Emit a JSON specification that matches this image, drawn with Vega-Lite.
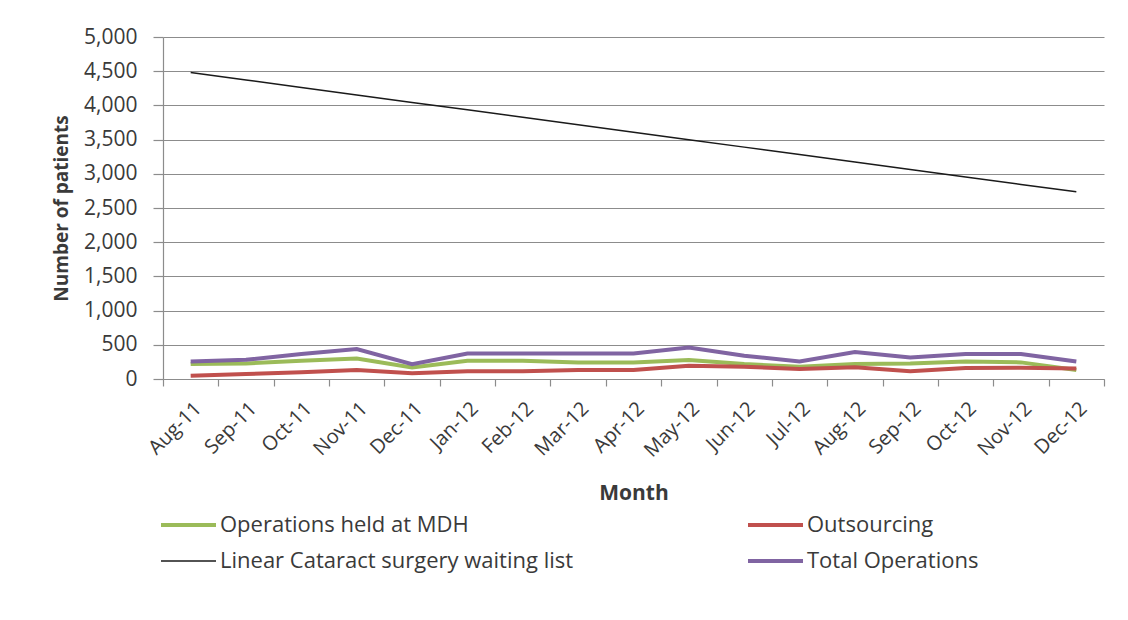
{
  "$schema": "https://vega.github.io/schema/vega-lite/v6.json",
  "width": 941,
  "height": 342,
  "autosize": {"type": "none"},
  "padding": {"left": 163, "top": 37, "right": 24, "bottom": 241},
  "background": "white",
  "config": {
    "font": "Open Sans",
    "view": {"stroke": null},
    "axis": {
      "labelColor": "#3a3a3a",
      "titleColor": "#3a3a3a",
      "domainColor": "#8c8c8c",
      "tickColor": "#8c8c8c",
      "gridColor": "#8c8c8c",
      "gridOpacity": 1,
      "domainWidth": 1.2,
      "tickWidth": 1.2
    }
  },
  "data": {
    "values": [
      {"month": "Aug-11", "series": "Operations held at MDH", "patients": 218},
      {"month": "Sep-11", "series": "Operations held at MDH", "patients": 228},
      {"month": "Oct-11", "series": "Operations held at MDH", "patients": 267},
      {"month": "Nov-11", "series": "Operations held at MDH", "patients": 300},
      {"month": "Dec-11", "series": "Operations held at MDH", "patients": 170},
      {"month": "Jan-12", "series": "Operations held at MDH", "patients": 267},
      {"month": "Feb-12", "series": "Operations held at MDH", "patients": 267},
      {"month": "Mar-12", "series": "Operations held at MDH", "patients": 243},
      {"month": "Apr-12", "series": "Operations held at MDH", "patients": 243},
      {"month": "May-12", "series": "Operations held at MDH", "patients": 277},
      {"month": "Jun-12", "series": "Operations held at MDH", "patients": 218},
      {"month": "Jul-12", "series": "Operations held at MDH", "patients": 180},
      {"month": "Aug-12", "series": "Operations held at MDH", "patients": 218},
      {"month": "Sep-12", "series": "Operations held at MDH", "patients": 228},
      {"month": "Oct-12", "series": "Operations held at MDH", "patients": 257},
      {"month": "Nov-12", "series": "Operations held at MDH", "patients": 243},
      {"month": "Dec-12", "series": "Operations held at MDH", "patients": 131},

      {"month": "Aug-11", "series": "Outsourcing", "patients": 49},
      {"month": "Sep-11", "series": "Outsourcing", "patients": 73},
      {"month": "Oct-11", "series": "Outsourcing", "patients": 97},
      {"month": "Nov-11", "series": "Outsourcing", "patients": 131},
      {"month": "Dec-11", "series": "Outsourcing", "patients": 83},
      {"month": "Jan-12", "series": "Outsourcing", "patients": 112},
      {"month": "Feb-12", "series": "Outsourcing", "patients": 112},
      {"month": "Mar-12", "series": "Outsourcing", "patients": 131},
      {"month": "Apr-12", "series": "Outsourcing", "patients": 131},
      {"month": "May-12", "series": "Outsourcing", "patients": 194},
      {"month": "Jun-12", "series": "Outsourcing", "patients": 180},
      {"month": "Jul-12", "series": "Outsourcing", "patients": 146},
      {"month": "Aug-12", "series": "Outsourcing", "patients": 170},
      {"month": "Sep-12", "series": "Outsourcing", "patients": 112},
      {"month": "Oct-12", "series": "Outsourcing", "patients": 160},
      {"month": "Nov-12", "series": "Outsourcing", "patients": 165},
      {"month": "Dec-12", "series": "Outsourcing", "patients": 155},

      {"month": "Aug-11", "series": "Total Operations", "patients": 257},
      {"month": "Sep-11", "series": "Total Operations", "patients": 282},
      {"month": "Oct-11", "series": "Total Operations", "patients": 364},
      {"month": "Nov-11", "series": "Total Operations", "patients": 437},
      {"month": "Dec-11", "series": "Total Operations", "patients": 218},
      {"month": "Jan-12", "series": "Total Operations", "patients": 374},
      {"month": "Feb-12", "series": "Total Operations", "patients": 374},
      {"month": "Mar-12", "series": "Total Operations", "patients": 374},
      {"month": "Apr-12", "series": "Total Operations", "patients": 374},
      {"month": "May-12", "series": "Total Operations", "patients": 461},
      {"month": "Jun-12", "series": "Total Operations", "patients": 340},
      {"month": "Jul-12", "series": "Total Operations", "patients": 257},
      {"month": "Aug-12", "series": "Total Operations", "patients": 395},
      {"month": "Sep-12", "series": "Total Operations", "patients": 316},
      {"month": "Oct-12", "series": "Total Operations", "patients": 364},
      {"month": "Nov-12", "series": "Total Operations", "patients": 364},
      {"month": "Dec-12", "series": "Total Operations", "patients": 257},

      {"month": "Aug-11", "series": "Linear  Cataract surgery waiting list", "patients": 4480},
      {"month": "Sep-11", "series": "Linear  Cataract surgery waiting list", "patients": 4371},
      {"month": "Oct-11", "series": "Linear  Cataract surgery waiting list", "patients": 4262},
      {"month": "Nov-11", "series": "Linear  Cataract surgery waiting list", "patients": 4153},
      {"month": "Dec-11", "series": "Linear  Cataract surgery waiting list", "patients": 4044},
      {"month": "Jan-12", "series": "Linear  Cataract surgery waiting list", "patients": 3935},
      {"month": "Feb-12", "series": "Linear  Cataract surgery waiting list", "patients": 3826},
      {"month": "Mar-12", "series": "Linear  Cataract surgery waiting list", "patients": 3717},
      {"month": "Apr-12", "series": "Linear  Cataract surgery waiting list", "patients": 3608},
      {"month": "May-12", "series": "Linear  Cataract surgery waiting list", "patients": 3499},
      {"month": "Jun-12", "series": "Linear  Cataract surgery waiting list", "patients": 3390},
      {"month": "Jul-12", "series": "Linear  Cataract surgery waiting list", "patients": 3281},
      {"month": "Aug-12", "series": "Linear  Cataract surgery waiting list", "patients": 3172},
      {"month": "Sep-12", "series": "Linear  Cataract surgery waiting list", "patients": 3063},
      {"month": "Oct-12", "series": "Linear  Cataract surgery waiting list", "patients": 2954},
      {"month": "Nov-12", "series": "Linear  Cataract surgery waiting list", "patients": 2845},
      {"month": "Dec-12", "series": "Linear  Cataract surgery waiting list", "patients": 2736}
    ]
  },
  "encoding": {
    "x": {
      "field": "month",
      "type": "ordinal",
      "sort": null,
      "bandPosition": 0.5,
      "scale": {"type": "band", "paddingInner": 0, "paddingOuter": 0},
      "axis": {
        "title": "Month",
        "titleFontSize": 21,
        "titleFontWeight": "bold",
        "titlePadding": 22,
        "labelAngle": -45,
        "labelFontSize": 20,
        "labelPadding": 12,
        "tickBand": "extent",
        "tickSize": 7,
        "grid": false
      }
    },
    "y": {
      "field": "patients",
      "type": "quantitative",
      "scale": {"domain": [0, 5000], "nice": false},
      "axis": {
        "title": "Number of patients",
        "titleFontSize": 19,
        "titleFontWeight": "bold",
        "titlePadding": 12,
        "values": [0, 500, 1000, 1500, 2000, 2500, 3000, 3500, 4000, 4500, 5000],
        "format": ",d",
        "labelFontSize": 21,
        "labelPadding": 16,
        "tickSize": 10,
        "grid": true,
        "gridWidth": 1.2
      }
    },
    "color": {
      "field": "series",
      "type": "nominal",
      "scale": {
        "domain": ["Operations held at MDH", "Linear  Cataract surgery waiting list", "Outsourcing", "Total Operations"],
        "range": ["#9bbb59", "#1a1a1a", "#c0504d", "#8064a2"]
      },
      "legend": {
        "orient": "none",
        "legendX": 14.5,
        "legendY": 477,
        "columns": 2,
        "columnPadding": 160,
        "rowPadding": 14,
        "title": null,
        "padding": 0,
        "labelFontSize": 22,
        "labelColor": "#3a3a3a",
        "labelLimit": 0,
        "labelOffset": 20.5,
        "symbolType": "M-2.75,0H2.75",
        "symbolSize": 400,
        "symbolStrokeWidth": 4,
        "encode": {
          "symbols": {
            "update": {
              "strokeWidth": {"signal": "datum.value === 'Linear  Cataract surgery waiting list' ? 1.5 : 4"}
            }
          }
        }
      }
    }
  },
  "layer": [
    {
      "transform": [{"filter": "datum.series !== 'Linear  Cataract surgery waiting list'"}],
      "mark": {"type": "line", "strokeWidth": 4}
    },
    {
      "transform": [{"filter": "datum.series === 'Linear  Cataract surgery waiting list'"}],
      "mark": {"type": "line", "strokeWidth": 1.5}
    }
  ]
}
